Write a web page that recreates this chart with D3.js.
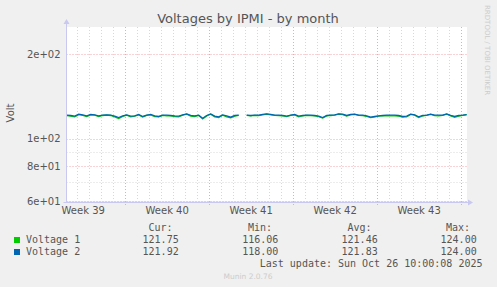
<!DOCTYPE html>
<html>
<head>
<meta charset="utf-8">
<script src="https://cdn.jsdelivr.net/npm/d3@7"></script>
<style>
  body { margin: 0; background: #f0f0f0; }
  svg { display: block; }
  text { font-family: "DejaVu Sans", sans-serif; }
  .mono { font-family: "DejaVu Sans Mono", monospace; font-size: 10px; fill: #555; }
</style>
</head>
<body>
<svg id="chart" width="497" height="287"></svg>
<script>
// samples every 8 hours, starting Sep 23 2025 04:00 UTC; null = no data
var startTime = Date.UTC(2025, 8, 23, 4, 0);
var stepHours = 8;

var voltage1 = [
  120.8, 120.4, 119.6, 121.9, 121.2, 119.9, 121.6, 121.3, 119.9, 121.0,
  121.3, 121.0, 119.6, 118.0, 120.0, 121.3, 119.6, 120.3, 121.6, 119.4,
  121.0, 121.6, 120.0, 119.6, 121.0, 120.6, 120.6, 120.0, 119.6, 121.3,
  122.3, 120.4, 120.0, 121.0, 117.6, 120.6, 122.3, 119.6, 118.9, 121.3,
  119.6, 118.6, 120.4, 121.0, null,  121.0, 120.6, 121.0, 120.8, 121.6,
  122.3, 121.6, 121.0, 120.8, 120.6, 119.9, 121.0, 121.6, 119.6, 120.6,
  121.0, 120.8, 120.6, 119.9, 118.4, 120.6, 121.0, 121.3, 122.3, 121.9,
  120.4, 121.6, 122.0, 121.0, 120.8, 120.2, 118.9, 119.6, 120.3, 120.6,
  120.8, 120.6, 120.6, 120.3, 119.4, 119.6, 122.0, 121.3, 118.9, 120.6,
  121.0, 122.0, 120.8, 120.6, 121.0, 122.3, 120.6, 119.3, 120.4, 121.0,
  121.75
];

var voltage2 = [
  121.3, 121.0, 120.4, 122.4, 121.5, 120.6, 122.0, 121.6, 120.6, 121.3,
  121.6, 121.3, 120.3, 119.0, 120.6, 121.6, 120.3, 120.6, 122.0, 120.0,
  121.3, 122.0, 120.6, 120.0, 121.3, 121.3, 121.0, 120.6, 120.3, 121.6,
  122.6, 121.0, 120.6, 121.3, 118.3, 121.0, 122.6, 120.3, 119.6, 121.6,
  120.6, 119.3, 121.0, 121.3, null,  121.3, 121.0, 121.3, 121.3, 122.0,
  122.6, 122.0, 121.3, 121.3, 121.0, 120.3, 121.3, 122.0, 120.3, 121.0,
  121.3, 121.3, 121.0, 120.3, 119.0, 121.0, 121.3, 121.6, 122.6, 122.3,
  121.0, 122.0, 122.3, 121.3, 121.3, 120.6, 119.3, 120.0, 120.6, 121.0,
  121.3, 121.3, 121.3, 121.0, 120.0, 120.3, 122.3, 121.6, 119.6, 121.0,
  121.3, 122.3, 121.3, 121.3, 121.3, 122.6, 121.0, 120.0, 121.0, 121.3,
  121.92
];

var seriesNames = ["Voltage 1", "Voltage 2"];
var seriesColors = ["#00cc00", "#0066b3"];
var statHeaders = ["Cur:", "Min:", "Avg:", "Max:"];
var statValues = [
  ["121.75", "116.06", "121.46", "124.00"],
  ["121.92", "118.00", "121.83", "124.00"]
];

var yMajorTicks = [60, 80, 100, 200];
var yMajorLabels = ["6e+01", "8e+01", "1e+02", "2e+02"];
var yMinorTicks = [70, 90];

var weekLabels = ["Week 39", "Week 40", "Week 41", "Week 42", "Week 43"];
var weekMids = [
  Date.UTC(2025, 8, 24, 12), Date.UTC(2025, 9, 1, 12), Date.UTC(2025, 9, 8, 12),
  Date.UTC(2025, 9, 15, 12), Date.UTC(2025, 9, 22, 12)
];

var svg = d3.select('#chart');
var plotLeft = 66.5, plotRight = 467, plotTop = 27, plotBottom = 201;

var x = d3.scaleUtc()
  .domain([Date.UTC(2025, 8, 23, 3, 35), Date.UTC(2025, 9, 26, 12, 40)])
  .range([plotLeft, plotRight]);

var y = d3.scaleLog()
  .domain([60, 250])
  .range([plotBottom, plotTop]);

// plot background
svg.append('rect')
  .attr('x', plotLeft).attr('y', plotTop)
  .attr('width', plotRight - plotLeft).attr('height', plotBottom - plotTop)
  .attr('fill', '#ffffff');

var grid = svg.append('g');

// day lines (minor) and week lines (major, Sundays)
var days = d3.utcDay.range(x.domain()[0], x.domain()[1]);
grid.selectAll('.vminor')
  .data(days.filter(function (d) { return d.getUTCDay() !== 0; }))
  .enter().append('line')
  .attr('x1', function (d) { return Math.round(x(d)) + 0.5; })
  .attr('x2', function (d) { return Math.round(x(d)) + 0.5; })
  .attr('y1', plotTop).attr('y2', plotBottom)
  .attr('stroke', '#d8d8d8').attr('stroke-dasharray', '1,2');

var weeks = d3.utcSunday.range(x.domain()[0], x.domain()[1]);
grid.selectAll('.vmajor')
  .data(weeks)
  .enter().append('line')
  .attr('x1', function (d) { return Math.round(x(d)) + 0.5; })
  .attr('x2', function (d) { return Math.round(x(d)) + 0.5; })
  .attr('y1', plotTop).attr('y2', plotBottom + 4)
  .attr('stroke', '#f0a8a8').attr('stroke-dasharray', '1,2');

grid.selectAll('.hminor')
  .data(yMinorTicks)
  .enter().append('line')
  .attr('x1', plotLeft).attr('x2', plotRight)
  .attr('y1', function (d) { return Math.round(y(d)) + 0.5; })
  .attr('y2', function (d) { return Math.round(y(d)) + 0.5; })
  .attr('stroke', '#d8d8d8').attr('stroke-dasharray', '1,2');

grid.selectAll('.hmajor')
  .data(yMajorTicks)
  .enter().append('line')
  .attr('x1', plotLeft).attr('x2', plotRight)
  .attr('y1', function (d) { return Math.round(y(d)) + 0.5; })
  .attr('y2', function (d) { return Math.round(y(d)) + 0.5; })
  .attr('stroke', '#f0a8a8').attr('stroke-dasharray', '1,2');

// series
var line = d3.line()
  .defined(function (d) { return d != null; })
  .x(function (d, i) { return x(startTime + i * stepHours * 3600e3); })
  .y(function (d) { return y(d); });

[voltage1, voltage2].forEach(function (s, k) {
  svg.append('path')
    .datum(s)
    .attr('d', line)
    .attr('fill', 'none')
    .attr('stroke', seriesColors[k])
    .attr('stroke-width', 1.3);
});

// axes frame with arrows
var axisColor = '#c8c8f0';
svg.append('line')
  .attr('x1', plotLeft).attr('x2', plotLeft).attr('y1', plotBottom + 1).attr('y2', plotTop - 4)
  .attr('stroke', axisColor);
svg.append('line')
  .attr('x1', plotLeft - 3).attr('x2', plotRight + 2).attr('y1', plotBottom + 1.5).attr('y2', plotBottom + 1.5)
  .attr('stroke', axisColor);
svg.append('path')
  .attr('d', 'M' + (plotLeft - 3) + ',' + (plotTop - 3) + 'L' + plotLeft + ',' + (plotTop - 8) + 'L' + (plotLeft + 3) + ',' + (plotTop - 3) + 'Z')
  .attr('fill', axisColor);
svg.append('path')
  .attr('d', 'M' + (plotRight + 1) + ',' + (plotBottom - 1.5) + 'L' + (plotRight + 6) + ',' + (plotBottom + 1.5) + 'L' + (plotRight + 1) + ',' + (plotBottom + 4.5) + 'Z')
  .attr('fill', axisColor);

// y axis labels
var yAxis = d3.axisLeft(y)
  .tickValues(yMajorTicks)
  .tickFormat(function (d, i) { return yMajorLabels[i]; })
  .tickSize(0)
  .tickPadding(5);
var yg = svg.append('g').attr('transform', 'translate(' + (plotLeft - 1) + ',0)').call(yAxis);
yg.select('.domain').remove();
yg.selectAll('text').attr('fill', '#555').style('font-size', '10px').style('font-family', '"DejaVu Sans", sans-serif');

// x axis labels
var xAxis = d3.axisBottom(x)
  .tickValues(weekMids)
  .tickFormat(function (d, i) { return weekLabels[i]; })
  .tickSize(0)
  .tickPadding(5);
var xg = svg.append('g').attr('transform', 'translate(0,' + (plotBottom + 1) + ')').call(xAxis);
xg.select('.domain').remove();
xg.selectAll('text').attr('fill', '#555').style('font-size', '10px').style('font-family', '"DejaVu Sans", sans-serif');

// title
svg.append('text')
  .attr('x', 248).attr('y', 23)
  .attr('text-anchor', 'middle')
  .attr('fill', '#555')
  .style('font-size', '13px')
  .text('Voltages by IPMI - by month');

// y title
svg.append('text')
  .attr('transform', 'translate(14,113) rotate(-90)')
  .attr('text-anchor', 'middle')
  .attr('fill', '#555')
  .style('font-size', '10px')
  .text('Volt');

// side credit
svg.append('text')
  .attr('transform', 'translate(485,5) rotate(90)')
  .attr('fill', '#ccc')
  .style('font-size', '7px')
  .text('RRDTOOL / TOBI OETIKER');

// legend
var colRight = [172.5, 272, 371.5, 470];
var valRight = [178.7, 278.3, 377.7, 476.7];
statHeaders.forEach(function (h, j) {
  svg.append('text').attr('class', 'mono')
    .attr('x', colRight[j]).attr('y', 231)
    .attr('text-anchor', 'end').text(h);
});
seriesNames.forEach(function (name, k) {
  var by = 243 + k * 12;
  svg.append('rect')
    .attr('x', 14).attr('y', by - 6)
    .attr('width', 6).attr('height', 6)
    .attr('fill', seriesColors[k]);
  svg.append('text').attr('class', 'mono')
    .attr('x', 26).attr('y', by).text(name);
  statValues[k].forEach(function (v, j) {
    svg.append('text').attr('class', 'mono')
      .attr('x', valRight[j]).attr('y', by)
      .attr('text-anchor', 'end').text(v);
  });
});
svg.append('text').attr('class', 'mono')
  .attr('x', 482.5).attr('y', 267)
  .attr('text-anchor', 'end')
  .text('Last update: Sun Oct 26 10:00:08 2025');

svg.append('text')
  .attr('x', 248).attr('y', 279)
  .attr('text-anchor', 'middle')
  .attr('fill', '#ccc')
  .style('font-size', '7.5px')
  .text('Munin 2.0.76');
</script>
</body>
</html>
